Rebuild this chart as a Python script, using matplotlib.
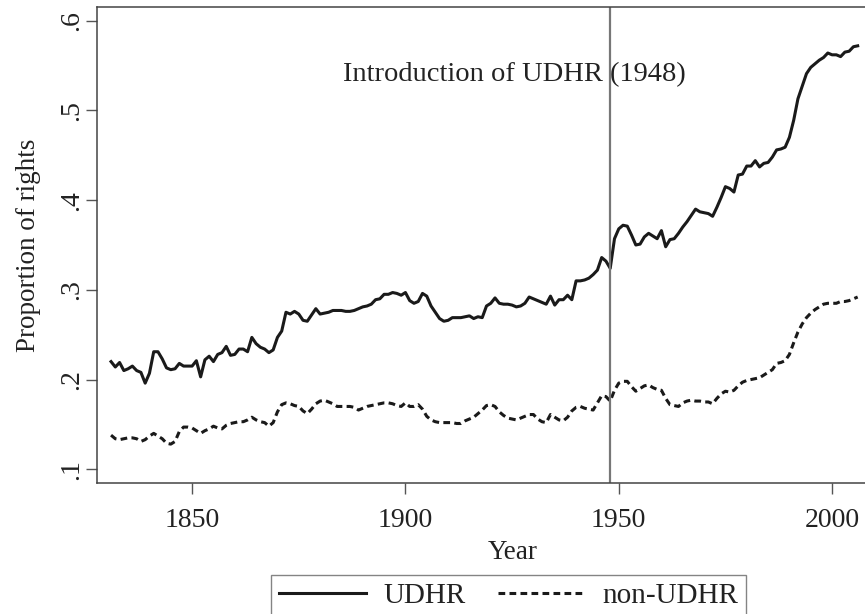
import matplotlib
matplotlib.use("Agg")
from matplotlib import pyplot as plt
import numpy as np

plt.rcParams['font.family'] = ['Liberation Serif', 'DejaVu Serif']

years = list(range(1831, 2007))

udhr = [.220, .214, .219, .210, .212, .215, .210, .208, .196, .207,
        .231, .231, .223, .213, .211, .212, .218, .215, .215, .215,
        .221, .203, .222, .226, .220, .228, .230, .237, .227, .228,
        .234, .234, .231, .247, .240, .236, .234, .230, .233, .247,
        .254, .275, .273, .276, .273, .266, .265, .272, .279, .273,
        .274, .275, .277, .277, .277, .276, .276, .277, .279, .281,
        .282, .284, .289, .290, .295, .295, .297, .296, .294, .297,
        .288, .285, .287, .296, .293, .282, .275, .268, .265, .266,
        .269, .269, .269, .270, .271, .268, .270, .269, .282, .285,
        .291, .285, .284, .284, .283, .281, .282, .285, .292, .290,
        .288, .286, .284, .293, .283, .289, .289, .294, .289, .310,
        .310, .311, .313, .317, .322, .336, .332, .324, .357, .368,
        .372, .371, .361, .350, .351, .359, .363, .360, .357, .366,
        .348, .356, .357, .363, .370, .376, .383, .390, .387, .386,
        .385, .382, .392, .403, .415, .413, .409, .428, .429, .438,
        .438, .444, .437, .441, .442, .448, .456, .457, .459, .470,
        .489, .513, .527, .541, .548, .552, .556, .559, .564, .562,
        .562, .560, .565, .566, .571, .572]

non_udhr = [.138, .134, .133, .134, .135, .135, .134, .131, .133, .137,
            .140, .137, .134, .129, .128, .131, .142, .147, .147, .146,
            .143, .140, .143, .145, .148, .146, .145, .149, .151, .152,
            .153, .153, .155, .158, .155, .153, .152, .148, .152, .164,
            .172, .174, .173, .171, .170, .165, .162, .167, .173, .176,
            .177, .175, .173, .170, .170, .170, .170, .169, .166, .168,
            .170, .171, .172, .173, .174, .174, .173, .171, .170, .174,
            .170, .170, .172, .167, .159, .155, .153, .152, .152, .152,
            .152, .151, .151, .154, .156, .158, .162, .166, .171, .172,
            .170, .164, .160, .157, .156, .155, .157, .159, .161, .161,
            .156, .153, .152, .161, .158, .155, .154, .158, .165, .169,
            .170, .168, .167, .166, .174, .182, .181, .176, .188, .196,
            .198, .198, .192, .187, .190, .193, .194, .191, .189, .188,
            .179, .172, .171, .170, .174, .176, .177, .176, .176, .175,
            .175, .173, .179, .184, .187, .186, .188, .193, .197, .199,
            .200, .201, .202, .205, .208, .211, .218, .219, .221, .228,
            .241, .253, .262, .269, .274, .278, .281, .284, .285, .285,
            .285, .287, .287, .288, .290, .292]

yticks = [.1, .2, .3, .4, .5, .6]
ytick_labels = ['.1', '.2', '.3', '.4', '.5', '.6']
xticks = [1850, 1900, 1950, 2000]

fig = plt.figure(figsize=(8.65, 6.14), dpi=100)
ax = fig.add_axes([0.1121, 0.2134, 0.9618, 0.7752])

ax.plot(years, udhr, color='#1a1a1a', lw=2.2, label='UDHR')
ax.plot(years, non_udhr, color='#1a1a1a', lw=2.2, dashes=(2.2, 1.4), label='non-UDHR')
ax.axvline(1948, color='#777777', lw=1.6)
ax.text(1925.5, 0.540, 'Introduction of UDHR (1948)', fontsize=20.5,
        ha='center', va='center', color='#222222')

ax.set_xlim(1827.7, 2022.7)
ax.set_ylim(0.0847, 0.6153)
ax.set_xticks(xticks)
ax.set_yticks(yticks)
ax.set_yticklabels(ytick_labels, rotation=90, va='center')
ax.tick_params(axis='both', labelsize=20, length=8, width=1, color='#555555',
               labelcolor='#222222')
ax.tick_params(axis='x', pad=10)
ax.tick_params(axis='y', pad=1.5)
for s in ['left', 'bottom', 'top']:
    ax.spines[s].set_color('#444444')
    ax.spines[s].set_linewidth(1.1)
ax.spines['right'].set_visible(False)

ax.set_xlabel('Year', fontsize=19.5, color='#222222', labelpad=5)
ax.set_ylabel('Proportion of rights', fontsize=19.5, color='#222222', labelpad=13)

leg = fig.legend(loc='upper center', bbox_to_anchor=(0.588, 0.0635), ncol=2,
                 fontsize=21, frameon=True, fancybox=False, handlelength=3.0,
                 columnspacing=1.1, handletextpad=0.6, borderpad=0.25,
                 borderaxespad=0)
leg.get_frame().set_edgecolor('#666666')
leg.get_frame().set_linewidth(1.0)
for t in leg.get_texts():
    t.set_color('#222222')

plt.savefig("out.png", dpi=100)
